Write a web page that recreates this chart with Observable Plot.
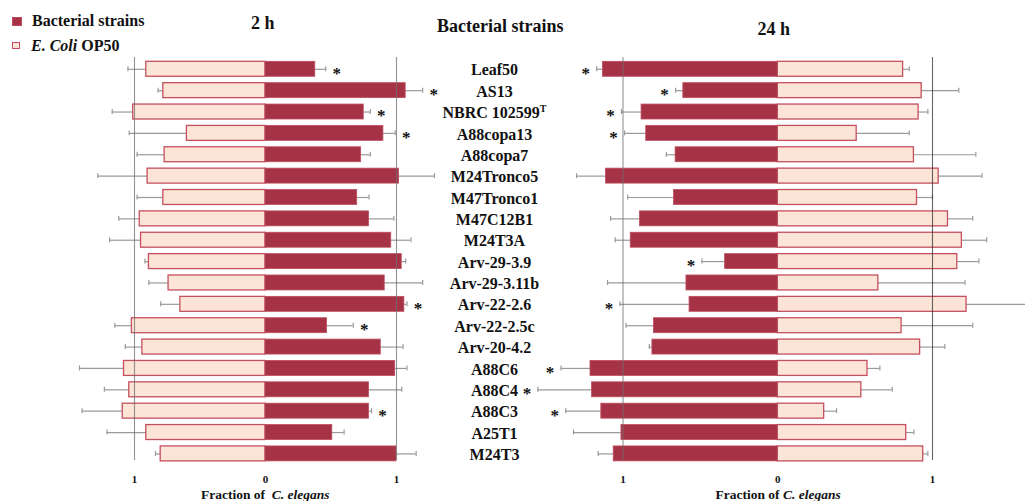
<!DOCTYPE html>
<html>
<head>
<meta charset="utf-8">
<script src="https://cdn.jsdelivr.net/npm/d3@7"></script>
<script src="https://cdn.jsdelivr.net/npm/@observablehq/plot@0.6"></script>
<style>
  html, body { margin: 0; padding: 0; background: #fff; }
  #fig { position: relative; width: 1025px; height: 501px; overflow: hidden; background: #fff;
         font-family: "Liberation Serif", "Times New Roman", serif; font-weight: bold; color: #111; }
  .layer { position: absolute; left: 0; top: 0; }
  .txt { position: absolute; white-space: pre; line-height: 1; }
  .sw { position: absolute; width: 8px; height: 7px; }
</style>
</head>
<body>
<div id="fig"></div>
<script>
// Strains, top to bottom
const strains = ["Leaf50", "AS13", "NBRC 102599T", "A88copa13", "A88copa7", "M24Tronco5", "M47Tronco1",
  "M47C12B1", "M24T3A", "Arv-29-3.9", "Arv-29-3.11b", "Arv-22-2.6", "Arv-22-2.5c", "Arv-20-4.2",
  "A88C6", "A88C4", "A88C3", "A25T1", "M24T3"];

// 2 h: fraction of worms on the bacterial strain and on E. coli OP50 (mean and error)
const strain2h    = [0.38, 1.07, 0.75, 0.90, 0.73, 1.02, 0.70, 0.79, 0.96, 1.04, 0.91, 1.06, 0.47, 0.88, 0.99, 0.79, 0.79, 0.51, 1.00];
const strain2hErr = [0.08, 0.13, 0.05, 0.09, 0.07, 0.27, 0.09, 0.19, 0.15, 0.03, 0.29, 0.02, 0.20, 0.17, 0.09, 0.25, 0.02, 0.09, 0.15];
const op50_2h     = [0.91, 0.78, 1.01, 0.60, 0.77, 0.90, 0.78, 0.96, 0.95, 0.89, 0.74, 0.65, 1.02, 0.94, 1.08, 1.04, 1.09, 0.91, 0.80];
const op50_2hErr  = [0.14, 0.04, 0.16, 0.44, 0.21, 0.38, 0.20, 0.16, 0.24, 0.03, 0.15, 0.15, 0.13, 0.13, 0.34, 0.19, 0.31, 0.30, 0.04];
const signif2h    = [1, 1, 1, 1, 0, 0, 0, 0, 0, 0, 0, 1, 1, 0, 0, 0, 1, 0, 0];

// 24 h
const strain24h    = [1.13, 0.61, 0.88, 0.85, 0.66, 1.11, 0.67, 0.89, 0.95, 0.34, 0.59, 0.57, 0.80, 0.81, 1.21, 1.20, 1.14, 1.01, 1.06];
const strain24hErr = [0.04, 0.05, 0.13, 0.14, 0.06, 0.19, 0.30, 0.19, 0.10, 0.15, 0.51, 0.45, 0.18, 0.02, 0.19, 0.35, 0.23, 0.31, 0.10];
const op50_24h     = [0.81, 0.93, 0.91, 0.51, 0.88, 1.04, 0.90, 1.10, 1.19, 1.16, 0.65, 1.22, 0.80, 0.92, 0.58, 0.54, 0.30, 0.83, 0.94];
const op50_24hErr  = [0.04, 0.24, 0.06, 0.34, 0.40, 0.28, 0.10, 0.16, 0.16, 0.14, 0.56, 0.40, 0.46, 0.16, 0.08, 0.20, 0.08, 0.05, 0.03];
const signif24h    = [1, 1, 1, 1, 0, 0, 0, 0, 0, 1, 0, 1, 0, 0, 1, 1, 1, 0, 0];

const axisTicks = [-1, 0, 1];

const W = 1025, H = 501;
const FONT = '"Liberation Serif", "Times New Roman", serif';
const DARK = "#a63246", DARK_EDGE = "#bd4d60";
const LIGHT = "#fce4d6", LIGHT_EDGE = "#c4505f";
const ERR = "#9a9a9a";

// shared row layout (same band scale in every layer)
const yScale = () => ({type: "band", domain: strains, range: [54.9, 467.3], padding: 0.3, round: false, axis: null});
const frame = {width: W, height: H, marginTop: 57, marginBottom: 41, marginLeft: 0, marginRight: 0};

function rowsFor(strain, strainErr, op, opErr, sig, strainSide) {
  // strainSide = +1 draws the strain bar to the right, -1 to the left
  return strains.map((s, i) => ({
    strain: s,
    b: strainSide * strain[i], bEnd: strainSide * (strain[i] + strainErr[i]),
    o: -strainSide * op[i], oEnd: -strainSide * (op[i] + opErr[i]),
    sig: sig[i], side: strainSide
  }));
}

function panel(rows, xRange, ruleStrokes) {
  return Plot.plot({
    ...frame,
    style: {background: "transparent", fontFamily: FONT, fontWeight: "bold", fontSize: "11px", color: "#111"},
    x: {domain: [-1, 1], range: xRange, ticks: axisTicks, tickFormat: d => Math.abs(d),
        tickSize: 0, tickPadding: 15, label: null},
    y: yScale(),
    marks: [
      // error whiskers with an end cap on the outer side
      Plot.ruleY(rows, {y: "strain", x1: "o", x2: "oEnd", stroke: ERR, strokeWidth: 1.2}),
      Plot.tickX(rows, {y: "strain", x: "oEnd", stroke: ERR, strokeWidth: 1.2, insetTop: 5, insetBottom: 5}),
      Plot.ruleY(rows, {y: "strain", x1: "b", x2: "bEnd", stroke: ERR, strokeWidth: 1.2}),
      Plot.tickX(rows, {y: "strain", x: "bEnd", stroke: ERR, strokeWidth: 1.2, insetTop: 5, insetBottom: 5}),
      // E. coli OP50 bars
      Plot.barX(rows, {y: "strain", x1: 0, x2: "o", fill: LIGHT, stroke: LIGHT_EDGE, strokeWidth: 1.3}),
      // bacterial strain bars
      Plot.barX(rows, {y: "strain", x1: 0, x2: "b", fill: DARK, stroke: DARK_EDGE, strokeWidth: 0.8}),
      // reference lines at a fraction of 1 on both sides
      Plot.ruleX([-1], {stroke: ruleStrokes[0], strokeOpacity: 0.75, strokeWidth: 1.1}),
      Plot.ruleX([1], {stroke: ruleStrokes[1], strokeOpacity: 0.75, strokeWidth: 1.1}),
      // significance marks beyond the strain whisker
      Plot.text(rows.filter(d => d.sig), {y: "strain", x: "bEnd", text: () => "*",
        dx: rows[0].side * 11, dy: 4, fontSize: 17, fill: "#111"})
    ]
  });
}

const fig = document.getElementById("fig");

function addLayer(node) {
  node.classList.add("layer");
  fig.appendChild(node);
}

const rows2h = rowsFor(strain2h, strain2hErr, op50_2h, op50_2hErr, signif2h, 1);
const rows24h = rowsFor(strain24h, strain24hErr, op50_24h, op50_24hErr, signif24h, -1);

addLayer(panel(rows2h, [134, 396], ["#6f6f6f", "#6f6f6f"]));
addLayer(panel(rows24h, [622.5, 932], ["#6f6f6f", "#333333"]));

// strain names between the two panels (frame centred on the label column)
const names = Plot.plot({
  ...frame, marginLeft: 0, marginRight: 37,
  style: {background: "transparent", fontFamily: FONT, fontWeight: "bold", color: "#111"},
  y: yScale(),
  marks: [Plot.text(strains, {y: d => d, text: d => d, frameAnchor: "middle", fontSize: 16, dy: 1, fill: "#111"})]
});
addLayer(names);
// type-strain superscript
names.querySelectorAll("text").forEach(t => {
  if (t.textContent === "NBRC 102599T") {
    t.textContent = "NBRC 102599";
    const sup = document.createElementNS("http://www.w3.org/2000/svg", "tspan");
    sup.setAttribute("font-size", "10");
    sup.setAttribute("dy", "-6");
    sup.textContent = "T";
    t.appendChild(sup);
  }
});

// text placed by baseline (line-height 1)
function label(html, cx, baseline, size, extra = {}) {
  const d = document.createElement("div");
  d.className = "txt";
  d.innerHTML = html;
  d.style.fontSize = size + "px";
  d.style.top = (baseline - 0.8375 * size) + "px";
  Object.assign(d.style, extra);
  fig.appendChild(d);
  if (cx !== null) d.style.left = (cx - d.offsetWidth / 2) + "px";
  return d;
}

label("2 h", 263, 29.5, 18);
label("Bacterial strains", 500, 32, 18);
label("24 h", 774, 35.5, 18);
label("Fraction of  <i>C. elegans</i>", 265.5, 499, 13.5);
label("Fraction of <i>C. elegans</i>", 778, 499, 13.5);

// legend
const sw1 = document.createElement("div");
sw1.className = "sw"; sw1.style.left = "12px"; sw1.style.top = "17px";
sw1.style.background = DARK; sw1.style.border = "0.5px solid " + DARK_EDGE;
fig.appendChild(sw1);
const sw2 = document.createElement("div");
sw2.className = "sw"; sw2.style.left = "12px"; sw2.style.top = "42px";
sw2.style.width = "6px"; sw2.style.height = "5px";
sw2.style.background = LIGHT; sw2.style.border = "1.3px solid " + LIGHT_EDGE;
fig.appendChild(sw2);
label("Bacterial strains", null, 26.7, 16, {left: "32px"});
label("<i>E. Coli</i> OP50", null, 51, 16, {left: "31px"});
</script>
</body>
</html>
